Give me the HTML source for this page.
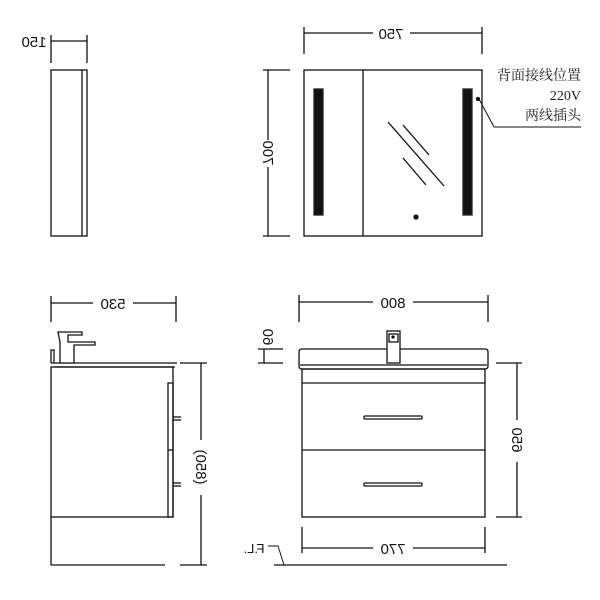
<!DOCTYPE html>
<html><head><meta charset="utf-8"><style>body{margin:0;background:#fff}svg{display:block}</style></head>
<body>
<svg width="600" height="600" viewBox="0 0 600 600" xmlns="http://www.w3.org/2000/svg" font-family="Liberation Sans, sans-serif" font-size="15" fill="none" stroke="#111" stroke-width="1.3">
<defs><pattern id="p" width="3" height="3" patternUnits="userSpaceOnUse"><rect width="3" height="3" fill="#444"/><rect width="1" height="1" fill="#bbb"/><rect x="2" y="1" width="1" height="1" fill="#ccc"/><rect x="1" y="2" width="1" height="1" fill="#999"/></pattern></defs>
<!-- side mirror cabinet -->
<line x1="51" y1="35" x2="51" y2="63"/><line x1="87" y1="35" x2="87" y2="63"/>
<line x1="51" y1="41" x2="87" y2="41"/>
<text transform="translate(34,47) scale(-1,1)" text-anchor="middle" fill="#111" stroke="none">150</text>
<rect x="51" y="70" width="36" height="166"/><line x1="82" y1="70" x2="82" y2="236"/>
<!-- 700 dim -->
<line x1="268" y1="70" x2="268" y2="140"/><line x1="268" y1="167" x2="268" y2="236"/>
<line x1="263" y1="70" x2="290" y2="70"/><line x1="263" y1="236" x2="290" y2="236"/>
<text transform="translate(263,153) scale(-1,1) rotate(-90)" text-anchor="middle" fill="#111" stroke="none">700</text>
<!-- 750 dim -->
<line x1="304" y1="27" x2="304" y2="54"/><line x1="482" y1="27" x2="482" y2="54"/>
<line x1="304" y1="33" x2="373" y2="33"/><line x1="410" y1="33" x2="482" y2="33"/>
<text transform="translate(391,39) scale(-1,1)" text-anchor="middle" fill="#111" stroke="none">750</text>
<!-- mirror -->
<rect x="304" y="70" width="178" height="166"/><line x1="363" y1="70" x2="363" y2="236"/>
<rect x="314" y="89" width="9" height="126" fill="url(#p)" stroke="#222"/>
<rect x="463" y="89" width="9" height="126" fill="url(#p)" stroke="#222"/>
<line x1="388" y1="122" x2="444" y2="186"/><line x1="403" y1="125" x2="429" y2="155"/><line x1="403" y1="158" x2="426" y2="185"/>
<circle cx="416" cy="217" r="2" fill="#111"/><circle cx="478" cy="99" r="1.5" fill="#111"/>
<polyline points="479,99 494,127 581,127" stroke-width="1"/>
<g fill="#222" stroke="none" font-family="Liberation Serif, Noto Serif CJK SC, serif" font-size="14" text-anchor="end">
<text x="581" y="80">背面接线位置</text><text x="581" y="100">220V</text><text x="581" y="120">两线插头</text></g>
<!-- side vanity -->
<line x1="51" y1="296" x2="51" y2="322"/><line x1="176" y1="296" x2="176" y2="322"/>
<line x1="51" y1="303" x2="93" y2="303"/><line x1="133" y1="303" x2="176" y2="303"/>
<text transform="translate(113,309) scale(-1,1)" text-anchor="middle" fill="#111" stroke="none">530</text>
<path d="M51,363 V350 H54 V363"/><line x1="51" y1="363" x2="177" y2="363"/><line x1="54" y1="367" x2="175" y2="367"/>
<path d="M58,332 H82 V335 H68 V342 H95 V345 H74 V363 H60 V342 Z" fill="#fff"/>
<rect x="51" y="367" width="122" height="150"/>
<path d="M168,383 H173 V517 H168 Z"/><line x1="168" y1="450" x2="173" y2="450"/>
<line x1="173" y1="417" x2="181" y2="417"/><line x1="173" y1="420" x2="181" y2="420"/>
<line x1="173" y1="483" x2="181" y2="483"/><line x1="173" y1="486" x2="181" y2="486"/>
<line x1="51" y1="517" x2="51" y2="565"/><line x1="51" y1="565" x2="165" y2="565"/>
<line x1="180" y1="363" x2="207" y2="363"/><line x1="180" y1="565" x2="207" y2="565"/>
<line x1="201" y1="363" x2="201" y2="440"/><line x1="201" y1="495" x2="201" y2="565"/>
<text transform="translate(196,467) scale(-1,1) rotate(-90)" text-anchor="middle" fill="#111" stroke="none">(850)</text>
<!-- 60 dim -->
<line x1="258" y1="349" x2="283" y2="349"/><line x1="258" y1="363" x2="283" y2="363"/><line x1="264" y1="349" x2="264" y2="363"/>
<text transform="translate(263,337) scale(-1,1) rotate(-90)" text-anchor="middle" fill="#111" stroke="none">60</text>
<!-- front vanity -->
<line x1="299" y1="295" x2="299" y2="322"/><line x1="488" y1="295" x2="488" y2="322"/>
<line x1="299" y1="302" x2="373" y2="302"/><line x1="413" y1="302" x2="488" y2="302"/>
<text transform="translate(393,308) scale(-1,1)" text-anchor="middle" fill="#111" stroke="none">800</text>
<path d="M302,349 H485 Q488,349 488,352 V366 Q488,369 485,369 H302 Q299,369 299,366 V352 Q299,349 302,349 Z" fill="#fff"/>
<rect x="387" y="331" width="13" height="32" fill="#fff"/><rect x="389" y="334" width="9" height="8"/><circle cx="393" cy="337" r="1" fill="#111"/>
<line x1="300" y1="365" x2="487" y2="365"/>
<rect x="302" y="369" width="183" height="148"/>
<line x1="302" y1="383" x2="485" y2="383"/><line x1="302" y1="450" x2="485" y2="450"/>
<rect x="364" y="416" width="58" height="3" rx="1"/><rect x="364" y="483" width="58" height="3" rx="1"/>
<line x1="496" y1="363" x2="522" y2="363"/><line x1="496" y1="517" x2="522" y2="517"/>
<line x1="517" y1="363" x2="517" y2="420"/><line x1="517" y1="462" x2="517" y2="517"/>
<text transform="translate(512,440) scale(-1,1) rotate(-90)" text-anchor="middle" fill="#111" stroke="none">650</text>
<line x1="302" y1="527" x2="302" y2="553"/><line x1="485" y1="527" x2="485" y2="553"/>
<line x1="302" y1="548" x2="373" y2="548"/><line x1="413" y1="548" x2="485" y2="548"/>
<text transform="translate(393,554) scale(-1,1)" text-anchor="middle" fill="#111" stroke="none">770</text>
<line x1="274" y1="565" x2="507" y2="565"/>
<polyline points="268,546 278,546 284,565" stroke-width="1"/>
<text transform="translate(254,553) scale(-1,1)" text-anchor="middle" font-size="13" fill="#111" stroke="none">F.L.</text>
</svg>
</body></html>
